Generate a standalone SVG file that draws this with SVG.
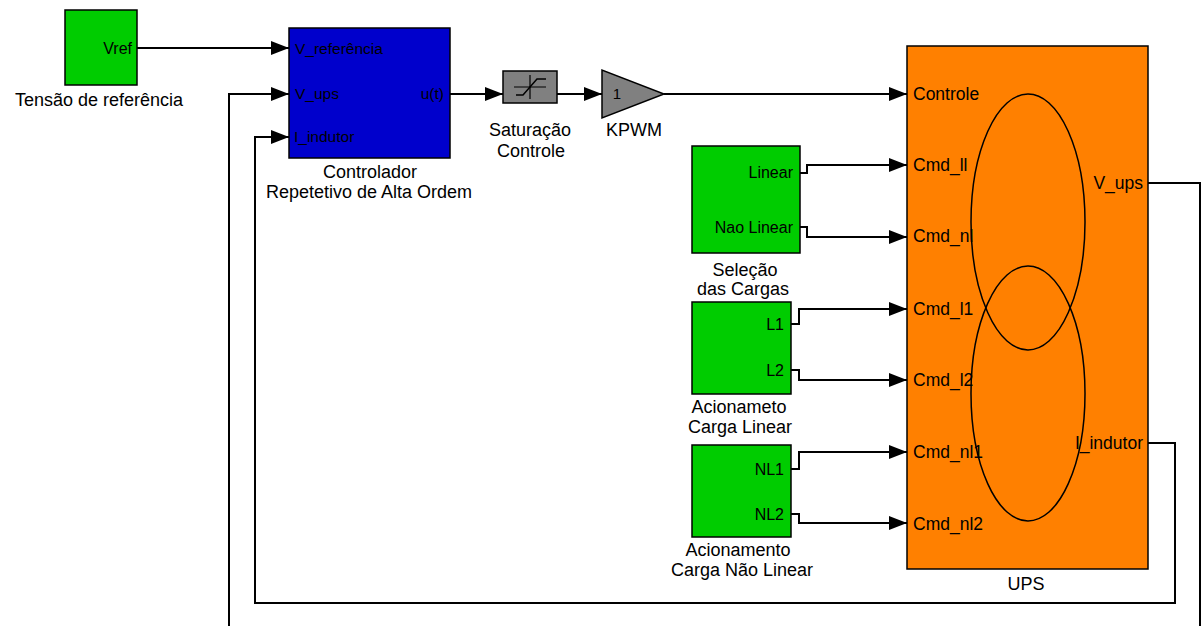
<svg xmlns="http://www.w3.org/2000/svg" width="1201" height="626" viewBox="0 0 1201 626">
<defs>
<marker id="arr" markerUnits="userSpaceOnUse" markerWidth="18" markerHeight="14" refX="18" refY="7" orient="auto">
<path d="M0,0 L18,7 L0,14 z" fill="#000"/>
</marker>
<style>
text{font-family:"Liberation Sans",Arial,sans-serif;fill:#000}
.lbl{font-size:18px;text-anchor:middle}
.pg{font-size:16px;text-anchor:end}
.pc{font-size:15.5px}
.pu{font-size:17.5px}
.pur{font-size:17.5px;text-anchor:end}
.blk{stroke:#000;stroke-width:1.5}
.green{fill:#00CC00}
.wire{fill:none;stroke:#000;stroke-width:2;marker-end:url(#arr)}
.wiren{fill:none;stroke:#000;stroke-width:2}
</style>
</defs>
<rect width="1201" height="626" fill="#fff"/>

<g id="connectors">
<path class="wire" d="M137,48 H289"/>
<path class="wire" d="M1148,183 H1200 V640 H229 V94 H289"/>
<path class="wire" d="M1148,443 H1175 V603 H255 V137 H289"/>
<path class="wire" d="M450,94 H503"/>
<path class="wire" d="M557,94 H602"/>
<path class="wire" d="M664,94 H907"/>
<path class="wire" d="M800,173 H807 V165 H907"/>
<path class="wire" d="M800,227 H807 V237 H907"/>
<path class="wire" d="M791,324 H799 V309 H907"/>
<path class="wire" d="M791,370 H799 V380 H907"/>
<path class="wire" d="M791,469 H799 V452 H907"/>
<path class="wire" d="M791,514 H799 V523 H907"/>
</g>

<g id="vref">
<rect class="blk green" x="65" y="10" width="72" height="75"/>
<text class="pg" x="132" y="54">Vref</text>
<text class="lbl" x="99" y="106">Tensão de referência</text>
</g>

<g id="controlador">
<rect class="blk" x="289" y="28" width="161" height="130" fill="#0000CC"/>
<text class="pc" x="295" y="54">V_referência</text>
<text class="pc" x="295" y="99">V_ups</text>
<text class="pc" x="294" y="142">I_indutor</text>
<text class="pc" x="444" y="99" text-anchor="end">u(t)</text>
<text class="lbl" x="370" y="178">Controlador</text>
<text class="lbl" x="369" y="198">Repetetivo de Alta Ordem</text>
</g>

<g id="saturacao">
<rect class="blk" x="503" y="71" width="54" height="32" fill="#808080"/>
<path d="M514,87 H546 M530,75 V99" stroke="#000" stroke-width="1.2" fill="none"/>
<path d="M516,95 H523 L537,79 H546" stroke="#000" stroke-width="1.5" fill="none"/>
<text class="lbl" x="530" y="136">Saturação</text>
<text class="lbl" x="531" y="157">Controle</text>
</g>

<g id="kpwm">
<polygon class="blk" points="602,70 602,118 664,94" fill="#808080"/>
<text x="617" y="99" font-size="15" text-anchor="middle">1</text>
<text class="lbl" x="634" y="136">KPWM</text>
</g>

<g id="selecao">
<rect class="blk green" x="692" y="146" width="108" height="107"/>
<text class="pg" x="793" y="178">Linear</text>
<text class="pg" x="793" y="233">Nao Linear</text>
<text class="lbl" x="745" y="276">Seleção</text>
<text class="lbl" x="743" y="295">das Cargas</text>
</g>

<g id="acionamento-linear">
<rect class="blk green" x="692" y="302" width="99" height="92"/>
<text class="pg" x="784" y="330">L1</text>
<text class="pg" x="784" y="376">L2</text>
<text class="lbl" x="739" y="413">Acionameto</text>
<text class="lbl" x="740" y="433">Carga Linear</text>
</g>

<g id="acionamento-nao-linear">
<rect class="blk green" x="692" y="445" width="99" height="92"/>
<text class="pg" x="784" y="475">NL1</text>
<text class="pg" x="784" y="520">NL2</text>
<text class="lbl" x="738" y="556">Acionamento</text>
<text class="lbl" x="742" y="576">Carga Não Linear</text>
</g>

<g id="ups">
<rect class="blk" x="907" y="46" width="241" height="523" fill="#FF8000"/>
<ellipse cx="1028" cy="222" rx="57" ry="128" fill="none" stroke="#000" stroke-width="1.5"/>
<ellipse cx="1028" cy="393.5" rx="57" ry="127.5" fill="none" stroke="#000" stroke-width="1.5"/>
<text class="pu" x="913" y="100">Controle</text>
<text class="pu" x="913" y="171">Cmd_ll</text>
<text class="pu" x="913" y="242">Cmd_nl</text>
<text class="pu" x="913" y="315">Cmd_l1</text>
<text class="pu" x="913" y="386">Cmd_l2</text>
<text class="pu" x="913" y="458">Cmd_nl1</text>
<text class="pu" x="913" y="530">Cmd_nl2</text>
<text class="pur" x="1143" y="189">V_ups</text>
<text class="pur" x="1143" y="449">I_indutor</text>
<text class="lbl" x="1026" y="590">UPS</text>
</g>
</svg>
